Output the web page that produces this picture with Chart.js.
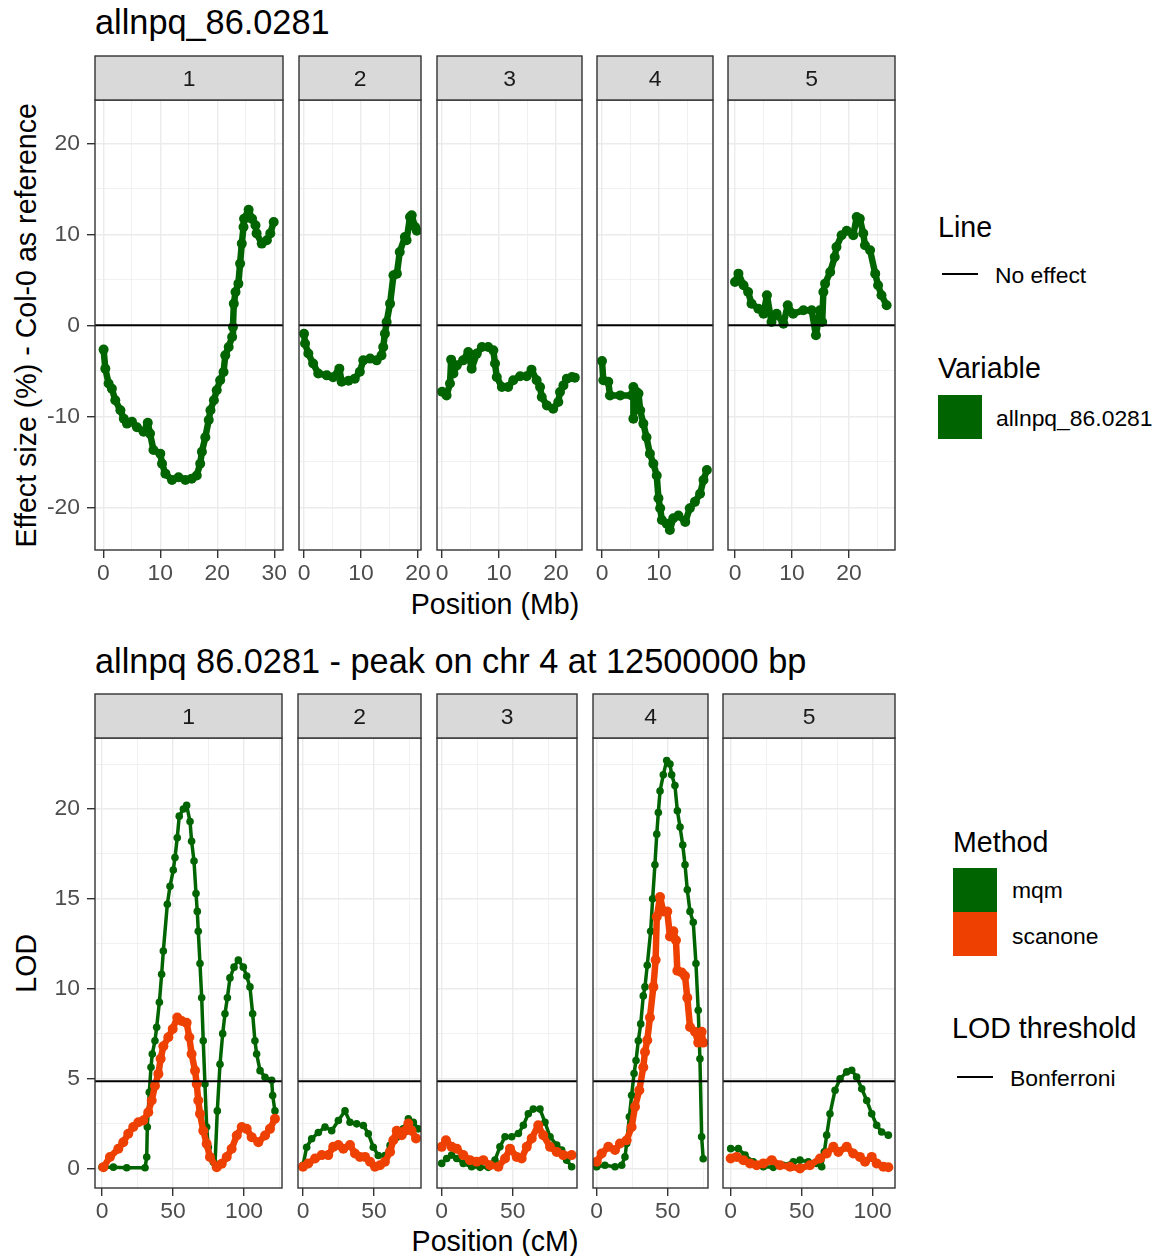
<!DOCTYPE html>
<html>
<head>
<meta charset="utf-8">
<script src="https://cdn.jsdelivr.net/npm/chart.js@4.4.1/dist/chart.umd.min.js"></script>
<style>
body { margin: 0; background: #fff; font-family: "Liberation Sans", Arial, sans-serif; }
#wrap { position: relative; width: 1158px; height: 1256px; overflow: hidden; background: #fff; }
canvas { position: absolute; }
.t { position: absolute; white-space: nowrap; line-height: 1; color: #000; }
.c { text-align: center; width: 600px; }
.rot { transform: rotate(-90deg); }
.key { position: absolute; }
</style>
</head>
<body>
<div id="wrap">
  <div class="t" style="left:95px;top:5px;font-size:34.3px;">allnpq_86.0281</div>
  <div class="t" style="left:95px;top:644px;font-size:34.3px;">allnpq 86.0281 - peak on chr 4 at 12500000 bp</div>

  <div class="t c rot" style="left:-273.9px;top:310.7px;font-size:28.6px;">Effect size (%) - Col-0 as reference</div>
  <div class="t c rot" style="left:-273.9px;top:948.7px;font-size:28.6px;">LOD</div>
  <div class="t c" style="left:195px;top:590px;font-size:28.6px;">Position (Mb)</div>
  <div class="t c" style="left:195px;top:1227px;font-size:28.6px;">Position (cM)</div>

  <!-- top legends -->
  <div class="t" style="left:938px;top:212.5px;font-size:28.6px;">Line</div>
  <div class="key" style="left:942px;top:273px;width:36px;height:2px;background:#000;"></div>
  <div class="t" style="left:995px;top:264px;font-size:22.9px;">No effect</div>
  <div class="t" style="left:938px;top:354px;font-size:28.6px;">Variable</div>
  <div class="key" style="left:938px;top:395px;width:44px;height:44px;background:#006400;"></div>
  <div class="t" style="left:996px;top:407.3px;font-size:22.9px;">allnpq_86.0281</div>

  <!-- bottom legends -->
  <div class="t" style="left:953px;top:827.5px;font-size:28.6px;">Method</div>
  <div class="key" style="left:953px;top:868px;width:44px;height:44px;background:#006400;"></div>
  <div class="key" style="left:953px;top:912px;width:44px;height:44px;background:#EE4000;"></div>
  <div class="t" style="left:1012px;top:879px;font-size:22.9px;">mqm</div>
  <div class="t" style="left:1012px;top:924.6px;font-size:22.9px;">scanone</div>
  <div class="t" style="left:952px;top:1014px;font-size:28.6px;">LOD threshold</div>
  <div class="key" style="left:957px;top:1076px;width:36px;height:2px;background:#000;"></div>
  <div class="t" style="left:1010px;top:1067px;font-size:22.9px;">Bonferroni</div>
</div>

<script>
// Chromosome names (facet strips)
const chromosomes = ['1', '2', '3', '4', '5'];

// Effect size (%) per chromosome, positions in Mb
const effPos1 = [0.05, 0.35, 0.93, 1.5, 2.1, 3.0, 3.6, 4.15, 5.03, 5.9, 7.07, 7.8, 8.2, 8.8, 10.0, 10.3, 10.9, 12.05, 13.2, 14.4, 15.5, 16.4, 17.0, 17.3, 17.9, 18.5, 18.8, 19.4, 19.9, 20.5, 21.1, 21.4, 22.0, 22.6, 22.75, 22.9, 23.2, 23.7, 24.0, 24.3, 24.6, 24.7, 25.5, 26.1, 26.7, 26.9, 27.8, 28.7, 29.3, 29.9];
const effVal1 = [-2.67, -4.76, -6.4, -6.96, -8.24, -9.34, -10.26, -10.8, -10.6, -11.2, -11.7, -10.7, -11.9, -13.7, -14.1, -15.2, -16.3, -17.0, -16.7, -17.0, -16.85, -16.5, -15.2, -13.9, -12.3, -10.4, -9.34, -8.24, -7.14, -6.04, -5.13, -3.3, -2.38, -1.28, -0.18, 2.38, 3.66, 4.58, 6.78, 8.98, 10.8, 11.7, 12.7, 11.7, 11.0, 10.1, 8.98, 9.34, 10.1, 11.35];
const effPos2 = [0, 0.18, 0.76, 1.6, 2.5, 4.0, 5.1, 6.2, 6.6, 7.8, 8.9, 9.8, 10.4, 11.6, 12.75, 13.6, 13.9, 14.2, 14.5, 15.1, 15.7, 16.3, 16.8, 17.7, 18.0, 18.6, 18.9, 19.5, 19.8];
const effVal2 = [-0.92, -2.0, -3.1, -4.2, -5.3, -5.5, -5.7, -4.76, -6.2, -6.1, -5.86, -5.1, -3.85, -3.66, -3.85, -3.3, -2.38, -0.92, 0.37, 2.38, 5.5, 5.68, 8.05, 9.7, 9.34, 11.9, 12.1, 10.8, 10.4];
const effPos3 = [0, 0.8, 1.4, 1.6, 2.0, 2.6, 3.7, 4.6, 5.2, 6.1, 7.0, 8.1, 9.0, 9.3, 9.6, 10.5, 11.6, 12.5, 13.7, 14.85, 15.7, 16.6, 17.2, 17.5, 18.4, 19.5, 20.4, 20.7, 21.3, 21.9, 22.8, 23.3];
const effVal3 = [-7.3, -7.7, -6.4, -3.77, -5.3, -4.4, -3.85, -2.93, -4.76, -3.11, -2.38, -2.38, -2.75, -4.2, -5.68, -6.78, -6.78, -6.04, -5.6, -5.6, -4.87, -6.04, -6.78, -7.88, -8.8, -9.16, -8.43, -7.33, -6.6, -5.86, -5.68, -5.75];
const effPos4 = [0, 0.23, 1.1, 1.4, 3.2, 5.2, 5.5, 5.5, 6.0, 6.4, 6.7, 7.25, 7.8, 8.4, 9.0, 9.6, 9.9, 10.2, 10.5, 11.35, 11.9, 12.5, 13.4, 14.6, 15.4, 16.3, 17.2, 17.8, 18.4];
const effVal4 = [-3.92, -6.04, -6.2, -7.7, -7.7, -7.7, -6.78, -10.26, -7.3, -7.5, -9.34, -10.8, -12.3, -14.1, -15.2, -16.5, -19.0, -20.1, -21.4, -21.8, -22.5, -21.2, -20.9, -21.6, -20.1, -19.4, -18.5, -17.0, -15.9];
const effPos5 = [0, 0.6, 1.5, 2.3, 2.9, 4.1, 5.0, 5.6, 6.4, 7.3, 8.5, 9.25, 10.2, 12.0, 13.45, 14.2, 14.9, 15.3, 15.5, 15.8, 16.7, 17.5, 17.8, 18.7, 19.6, 20.75, 21.35, 21.9, 22.5, 22.8, 23.7, 24.6, 25.1, 25.7, 26.6];
const effVal5 = [4.76, 5.68, 4.4, 3.66, 2.38, 1.83, 1.28, 3.3, 0.37, 1.28, 0.18, 2.2, 1.28, 1.65, 1.65, -1.1, 1.65, 0.37, 3.66, 4.58, 5.86, 7.5, 8.6, 9.9, 10.4, 9.9, 11.9, 11.7, 10.1, 8.8, 8.24, 5.68, 4.4, 3.3, 2.2];

// LOD scores, positions in cM
const mqmPos1 = [0, 8, 17.4, 30.3, 31.5, 31.9, 33.3, 34.5, 35.4, 37.3, 38.5, 40.4, 42, 43.2, 46, 47.9, 50.2, 51.4, 53, 54.4, 57.3, 59.6, 62, 63.1, 64.8, 66.2, 67.1, 67.8, 69, 70.2, 71.3, 72.5, 73.7, 74.9, 78.4, 79.6, 81.2, 83.1, 85, 86.6, 88.3, 90.1, 93, 96, 99.5, 101.9, 104.2, 106.1, 107.7, 108.9, 111.3, 114.8, 119.5, 120.2, 121.8];
const mqmLod1 = [0.07, 0.07, 0.04, 0.04, 0.63, 2.3, 4.24, 5.63, 6.37, 7.1, 7.85, 9.24, 10.8, 12.1, 14.7, 15.7, 16.6, 17.3, 18.4, 19.6, 20.0, 20.2, 19.3, 18.2, 17.1, 15.3, 14.3, 13.2, 11.4, 9.5, 7.1, 4.7, 2.3, 1.18, 0.35, 0.26, 3.2, 5.8, 7.5, 8.6, 9.5, 10.6, 11.2, 11.6, 11.2, 10.7, 10.1, 8.6, 7.1, 6.37, 5.44, 5.07, 4.9, 4.06, 3.2];
const scanPos1 = [1, 5.6, 11.5, 15, 18.5, 22, 25.6, 29.1, 32.6, 35, 37.3, 39.7, 41.3, 43.2, 46.7, 49.8, 53, 56.1, 59.6, 61.5, 63.1, 65.5, 66.7, 67.8, 69, 71.3, 73.7, 76, 80.8, 84.3, 87.8, 91.3, 94.9, 98.4, 101.9, 105.4, 110.1, 114.8, 118.3, 121.8];
const scanLod1 = [0.07, 0.63, 1.09, 1.46, 1.93, 2.3, 2.57, 2.67, 3.13, 3.78, 4.6, 5.26, 6.1, 6.8, 7.3, 7.76, 8.4, 8.2, 8.1, 7.3, 6.37, 5.44, 4.7, 3.78, 3.04, 2.1, 1.37, 0.63, 0.07, 0.26, 0.63, 1.09, 1.83, 2.3, 2.2, 1.74, 1.46, 1.83, 2.2, 2.76];
const mqmPos2 = [0, 2.6, 6.1, 10.8, 15.5, 20.2, 24.9, 29.6, 33.1, 37.8, 42.5, 46, 49.5, 53, 57.7, 61.3, 66, 70.6, 74.2, 77.7, 81.2];
const mqmLod2 = [0.17, 1.18, 1.65, 2.0, 2.3, 2.1, 2.67, 3.2, 2.57, 2.48, 2.39, 1.93, 1.18, 0.72, 0.72, 1.28, 1.74, 2.2, 2.76, 2.57, 2.2];
const scanPos2 = [0, 3.7, 8.5, 13.2, 17.8, 21.3, 24.9, 28.4, 33.1, 36.6, 40.1, 43.7, 47.2, 50.7, 54.2, 57.7, 61.3, 63.6, 66, 69.5, 71.8, 74.2, 76.5, 79.6];
const scanLod2 = [0.09, 0.28, 0.55, 0.74, 0.74, 1.2, 1.3, 1.1, 1.3, 0.83, 0.64, 0.64, 0.37, 0.09, 0.18, 0.37, 0.92, 1.57, 2.1, 1.85, 2.1, 2.5, 2.1, 1.67];
const mqmPos3 = [0, 3.5, 7, 10.6, 15.2, 21.1, 27, 32.8, 37.5, 41, 44.6, 49.3, 54, 57.5, 61, 64.5, 69.2, 72.7, 76.3, 81, 84.5, 88, 91.5];
const mqmLod3 = [0.28, 0.55, 0.74, 0.55, 0.28, 0.09, 0.06, 0.06, 0.46, 1.2, 1.76, 1.76, 1.94, 2.4, 3.04, 3.3, 3.3, 2.57, 1.76, 1.3, 1.02, 0.46, 0.09];
const scanPos3 = [0, 3, 7, 10.6, 15.2, 19.9, 24.6, 29.3, 34, 39.9, 44.6, 48.1, 52.8, 56.3, 59.9, 63.4, 68, 71.5, 76.3, 81, 85.6, 91.5];
const scanLod3 = [1.2, 1.57, 1.2, 1.1, 0.74, 0.46, 0.37, 0.46, 0.18, 0.09, 0.55, 1.1, 0.64, 0.55, 1.2, 1.67, 2.4, 1.85, 1.2, 0.92, 0.74, 0.74];
const mqmPos4 = [0, 5.8, 12.9, 17.6, 19.9, 21.1, 23, 24.6, 26.3, 27.7, 29.3, 31, 32.8, 34, 35.6, 38, 39.4, 41, 42.3, 43.4, 44.6, 46.9, 49.3, 51.6, 52.8, 55.1, 56.8, 58.7, 60.6, 62.2, 63.8, 65.7, 68, 69.9, 71.5, 72.7, 73.9, 75];
const mqmLod4 = [0.09, 0.18, 0.09, 0.18, 0.64, 1.39, 2.87, 4.07, 5.28, 6.0, 7.1, 8.04, 9.6, 10.1, 11.3, 13.2, 15.0, 16.9, 18.6, 19.8, 21.0, 21.9, 22.7, 22.5, 21.9, 21.3, 19.9, 19.0, 18.0, 16.9, 15.5, 14.3, 13.7, 11.4, 8.8, 6.1, 1.76, 0.54];
const scanPos4 = [0, 3.5, 8.2, 12.9, 16.4, 21.1, 24.6, 27, 30, 32.8, 34, 35.6, 37.5, 39.9, 41.5, 42.3, 44.6, 46.9, 49.7, 51.6, 54, 55.8, 56.8, 59.9, 62.2, 63.8, 65.7, 69.2, 71.5, 73.9, 75];
const scanLod4 = [0.37, 0.83, 1.2, 1.02, 1.39, 1.57, 2.3, 3.43, 4.35, 5.63, 6.48, 7.13, 8.4, 10.1, 11.6, 14.0, 15.1, 14.3, 14.3, 12.9, 13.2, 12.7, 11.0, 10.9, 10.7, 9.5, 7.87, 7.6, 7.0, 7.6, 7.0];
const mqmPos5 = [0, 5.4, 10.1, 15.9, 23, 30, 37, 44.1, 48.8, 54.6, 60.6, 64.1, 65.9, 67.6, 69.9, 73.5, 77, 81.7, 85.2, 88.7, 92.3, 95.8, 99.3, 102.8, 106.3, 111];
const mqmLod5 = [1.1, 1.1, 0.74, 0.37, 0.09, 0.06, 0.18, 0.37, 0.46, 0.37, 0.28, 0.09, 0.92, 1.85, 3.04, 4.35, 4.98, 5.37, 5.46, 5.09, 4.43, 3.78, 3.04, 2.4, 2.03, 1.85];
const scanPos5 = [0, 4.2, 8.9, 13.6, 18.3, 23, 28.9, 34.7, 41.8, 48.8, 55.8, 62.9, 67.6, 72.3, 75.8, 81.7, 86.3, 91, 94.6, 99.3, 102.8, 107.5, 111];
const scanLod5 = [0.55, 0.64, 0.46, 0.28, 0.18, 0.28, 0.46, 0.18, 0.09, 0, 0.18, 0.55, 0.83, 1.2, 0.92, 1.2, 0.83, 0.64, 0.37, 0.64, 0.28, 0.09, 0.06];

// Reference lines
const noEffect = 0;
const lodThreshold = 4.85;

// Tick labels
const effTicks = [-20, -10, 0, 10, 20];
const mbTicks = [0, 10, 20, 30];
const lodTicks = [0, 5, 10, 15, 20];
const cmTicks = [0, 50, 100];

const GREEN = '#006400';
const ORANGE = '#EE4000';

Chart.defaults.font.family = '"Liberation Sans", Arial, sans-serif';

const wrap = document.getElementById('wrap');
const PAD_L = 70, PAD_R = 26, PAD_T = 48, PAD_B = 40, STRIP = 44;

function onStep(v, step) {
    return Math.abs(v / step - Math.round(v / step)) < 1e-6;
}

function pts(xs, ys) {
    return xs.map((x, i) => ({ x: x, y: ys[i] }));
}

function drawFacet(f) {
    const w = f.right - f.left, h = f.bottom - f.top;
    const cv = document.createElement('canvas');
    cv.width = w + PAD_L + PAD_R;
    cv.height = h + PAD_T + PAD_B;
    cv.style.left = (f.left - PAD_L) + 'px';
    cv.style.top = (f.top - PAD_T) + 'px';
    wrap.appendChild(cv);

    // panel border and strip on top
    const frame = {
        id: 'frame',
        afterDraw(chart) {
            const ctx = chart.ctx, a = chart.chartArea;
            ctx.save();
            ctx.lineWidth = 1.4;
            ctx.strokeStyle = '#333333';
            ctx.strokeRect(a.left, a.top, a.right - a.left, a.bottom - a.top);
            ctx.fillStyle = '#D9D9D9';
            ctx.fillRect(a.left, a.top - STRIP, a.right - a.left, STRIP);
            ctx.strokeRect(a.left, a.top - STRIP, a.right - a.left, STRIP);
            ctx.fillStyle = '#1A1A1A';
            ctx.font = '22.9px "Liberation Sans", Arial, sans-serif';
            ctx.textAlign = 'center';
            ctx.textBaseline = 'middle';
            ctx.fillText(f.label, (a.left + a.right) / 2, a.top - STRIP / 2 + 1.5);
            ctx.restore();
        }
    };

    const gridOpts = (major, showTicks) => ({
        color: '#EBEBEB',
        lineWidth: c => onStep(c.tick.value, major) ? 1.4 : 0.7,
        tickLength: 8,
        tickWidth: 1.4,
        tickColor: c => (showTicks && onStep(c.tick.value, major)) ? '#333333' : 'rgba(0,0,0,0)'
    });

    new Chart(cv, {
        type: 'line',
        data: { datasets: f.datasets },
        options: {
            responsive: false,
            animation: false,
            devicePixelRatio: 1,
            layout: { padding: { left: 0, right: PAD_R, top: PAD_T, bottom: 0 } },
            plugins: { legend: { display: false }, tooltip: { enabled: false } },
            elements: { line: { tension: 0, borderJoinStyle: 'round', borderCapStyle: 'round' } },
            scales: {
                x: {
                    type: 'linear',
                    min: f.xMin,
                    max: f.xMax,
                    afterFit: s => { s.height = PAD_B; },
                    border: { display: false },
                    grid: gridOpts(f.xMajor, true),
                    ticks: {
                        stepSize: f.xMajor / 2,
                        includeBounds: false,
                        autoSkip: false,
                        maxTicksLimit: 100,
                        maxRotation: 0,
                        minRotation: 0,
                        padding: 2,
                        color: '#4D4D4D',
                        font: { size: 22.9 },
                        callback: v => f.xLabels.includes(v) ? String(v) : ''
                    }
                },
                y: {
                    min: f.yMin,
                    max: f.yMax,
                    afterFit: s => { s.width = PAD_L; },
                    border: { display: false },
                    grid: gridOpts(f.yMajor, f.showY),
                    ticks: {
                        display: f.showY,
                        stepSize: f.yMajor / 2,
                        includeBounds: false,
                        autoSkip: false,
                        maxTicksLimit: 100,
                        padding: 7,
                        color: '#4D4D4D',
                        font: { size: 22.9 },
                        callback: v => f.yLabels.includes(v) ? String(v) : ''
                    }
                }
            }
        },
        plugins: [frame]
    });
}

// effect-size panels (Mb)
const effPos = [effPos1, effPos2, effPos3, effPos4, effPos5];
const effVal = [effVal1, effVal2, effVal3, effVal4, effVal5];
const topBox = [[95, 283, -1.46, 31.53], [299, 421, -0.88, 20.53], [437, 582, -0.88, 24.56], [597, 713, -0.88, 19.47], [728, 895, -1.23, 28.07]];

chromosomes.forEach((chr, i) => {
    const b = topBox[i];
    drawFacet({
        label: chr, left: b[0], right: b[1], top: 100, bottom: 550,
        xMin: b[2], xMax: b[3], yMin: -24.69, yMax: 24.76,
        xMajor: 10, yMajor: 10, xLabels: mbTicks, yLabels: effTicks, showY: i === 0,
        datasets: [
            { data: [{ x: b[2], y: noEffect }, { x: b[3], y: noEffect }], borderColor: '#000', borderWidth: 2, pointRadius: 0 },
            { data: pts(effPos[i], effVal[i]), borderColor: GREEN, backgroundColor: GREEN, borderWidth: 6.5, pointRadius: 5, pointBorderWidth: 0 }
        ]
    });
});

// LOD panels (cM)
const mqmPos = [mqmPos1, mqmPos2, mqmPos3, mqmPos4, mqmPos5];
const mqmLod = [mqmLod1, mqmLod2, mqmLod3, mqmLod4, mqmLod5];
const scanPos = [scanPos1, scanPos2, scanPos3, scanPos4, scanPos5];
const scanLod = [scanLod1, scanLod2, scanLod3, scanLod4, scanLod5];
const lodBox = [[95, 282, -4.93, 126.76], [298, 421, -3.52, 83.1], [437, 577, -3.31, 95.28], [593, 708, -2.61, 78.38], [723, 895, -5.42, 115.7]];

chromosomes.forEach((chr, i) => {
    const b = lodBox[i];
    drawFacet({
        label: chr, left: b[0], right: b[1], top: 738, bottom: 1188,
        xMin: b[2], xMax: b[3], yMin: -1.09, yMax: 23.95,
        xMajor: 50, yMajor: 5, xLabels: cmTicks, yLabels: lodTicks, showY: i === 0,
        datasets: [
            { data: [{ x: b[2], y: lodThreshold }, { x: b[3], y: lodThreshold }], borderColor: '#000', borderWidth: 2, pointRadius: 0 },
            { data: pts(scanPos[i], scanLod[i]), borderColor: ORANGE, backgroundColor: ORANGE, borderWidth: 6.5, pointRadius: 5, pointBorderWidth: 0 },
            { data: pts(mqmPos[i], mqmLod[i]), borderColor: GREEN, backgroundColor: GREEN, borderWidth: 3.5, pointRadius: 3.8, pointBorderWidth: 0 }
        ]
    });
});
</script>
</body>
</html>
